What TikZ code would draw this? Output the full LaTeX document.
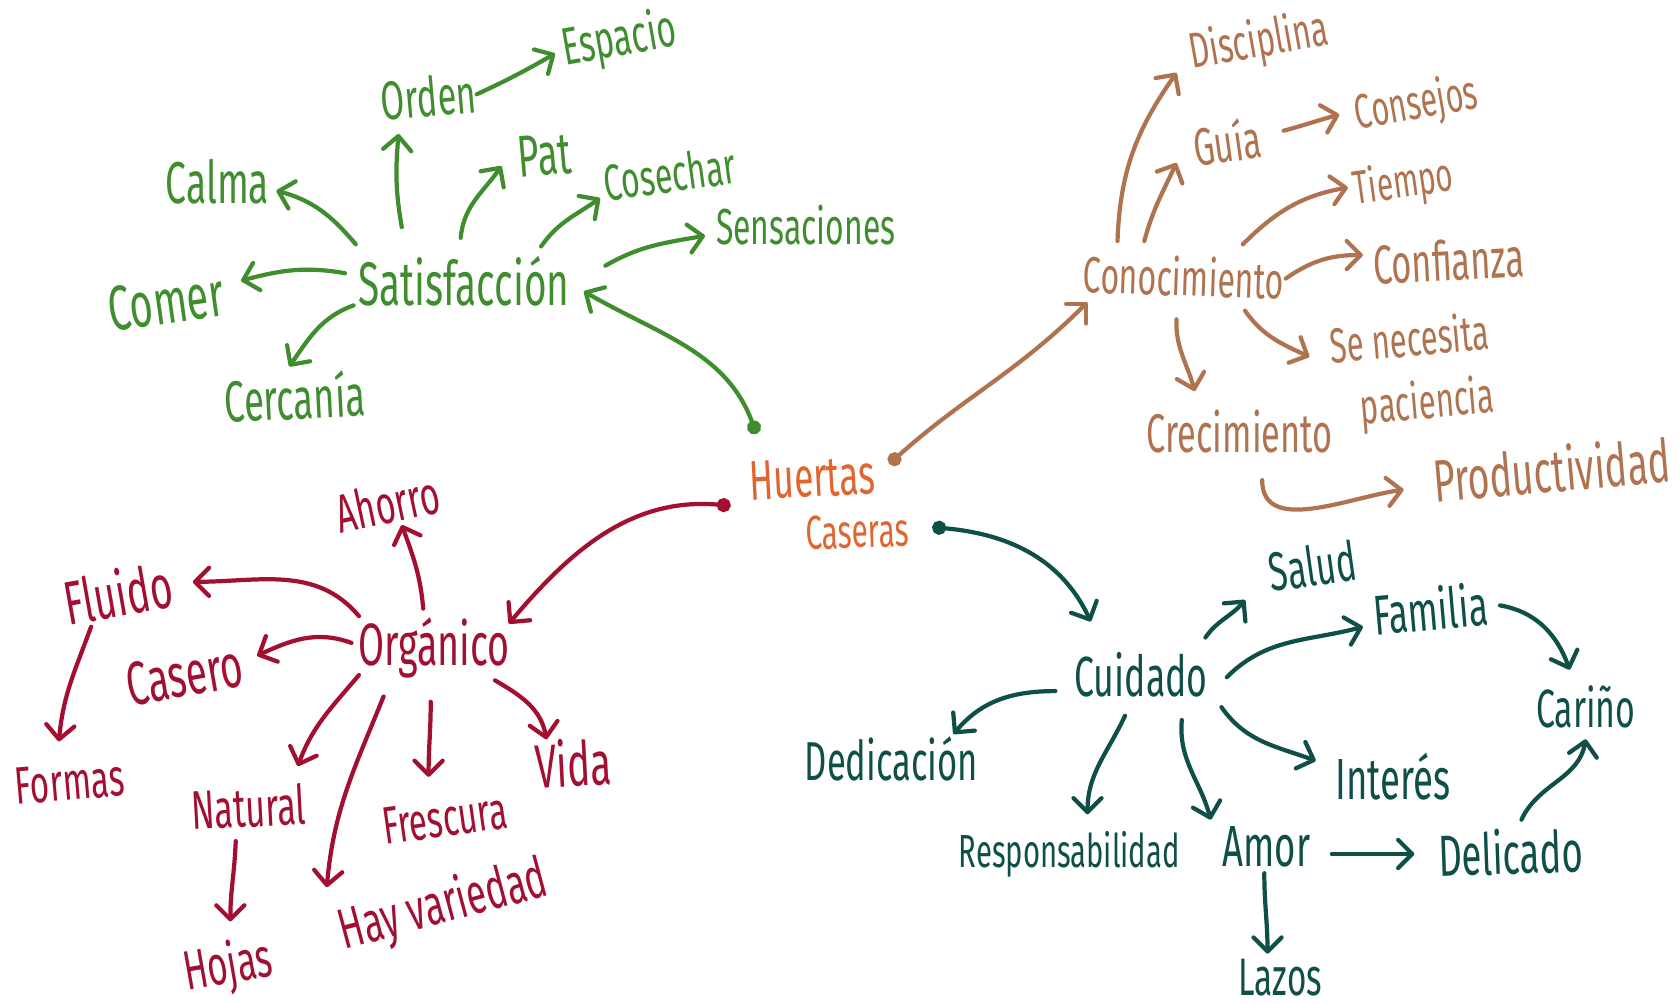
\documentclass[tikz,border=0pt]{standalone}
\usepackage{fontspec}
\setmainfont{Fira Sans}[FakeStretch=0.63]
\usetikzlibrary{arrows.meta,calc}
\definecolor{cgreen}{RGB}{63,141,46}
\definecolor{cbrown}{RGB}{176,115,80}
\definecolor{corange}{RGB}{224,101,48}
\definecolor{cred}{RGB}{163,15,48}
\definecolor{cteal}{RGB}{14,79,72}
\begin{document}
\begin{tikzpicture}[x=0.010714cm,y=0.010714cm,
  fs/.style={font=\fontsize{#1}{#1}\selectfont},
  lab/.style={inner sep=0pt,text=#1},
  arr/.style={draw=#1,line width=1.2pt,line cap=round,-{Straight Barb[length=4pt,width=8pt,round]}},
  darr/.style={draw=#1,line width=1.2pt,line cap=round,{Circle[length=4pt]}-{Straight Barb[length=4pt,width=8pt,round]}}]
\useasboundingbox (0,0) rectangle (1568,-937);
% centre
\node[lab=corange,fs=16,rotate=3] (huertas) at (758,-446) {Huertas};
\node[lab=corange,fs=13.5,rotate=2] (caseras) at (800,-496) {Caseras};
% green
\node[lab=cgreen,fs=17.5] (sat) at (433,-262) {Satisfacción};
\node[lab=cgreen,fs=16.8] (calma) at (203,-170) {Calma};
\node[lab=cgreen,fs=18,rotate=8] (comer) at (155,-282) {Comer};
\node[lab=cgreen,fs=16.5,rotate=3] (cercania) at (275,-370) {Cercanía};
\node[lab=cgreen,fs=15.5,rotate=5] (orden) at (400,-90) {Orden};
\node[lab=cgreen,fs=15,rotate=10] (espacio) at (578,-38) {Espacio};
\node[lab=cgreen,fs=16.8,rotate=5] (pat) at (508,-145) {Pat};
\node[lab=cgreen,fs=14.5,rotate=8] (cosechar) at (625,-162) {Cosechar};
\node[lab=cgreen,fs=14.4] (sens) at (752,-210) {Sensaciones};
% brown
\node[lab=cbrown,fs=14.5,rotate=-2] (conoc) at (1105,-258) {Conocimiento};
\node[lab=cbrown,fs=14.2,rotate=10] (disc) at (1175,-40) {Disciplina};
\node[lab=cbrown,fs=15,rotate=8] (guia) at (1145,-132) {Guía};
\node[lab=cbrown,fs=13.8,rotate=10] (consejos) at (1322,-98) {Consejos};
\node[lab=cbrown,fs=13.4,rotate=8] (tiempo) at (1310,-172) {Tiempo};
\node[lab=cbrown,fs=15.6,rotate=3] (conf) at (1352,-243) {Confianza};
\node[lab=cbrown,rotate=5,align=right,font=\fontsize{14}{18}\selectfont] (senec) at (1318,-349) {Se necesita\\paciencia};
\node[lab=cbrown,fs=15.5] (crecim) at (1157,-403) {Crecimiento};
\node[lab=cbrown,fs=17,rotate=5] (product) at (1448,-438) {Productividad};
% red
\node[lab=cred,fs=17] (org) at (405,-605) {Orgánico};
\node[lab=cred,fs=15.4,rotate=12] (ahorro) at (362,-470) {Ahorro};
\node[lab=cred,fs=17.5,rotate=10] (fluido) at (110,-553) {Fluido};
\node[lab=cred,fs=17.5,rotate=10] (casero) at (172,-630) {Casero};
\node[lab=cred,fs=15,rotate=5] (formas) at (65,-730) {Formas};
\node[lab=cred,fs=15.5,rotate=3] (natural) at (232,-753) {Natural};
\node[lab=cred,fs=15.8,rotate=10] (hojas) at (213,-903) {Hojas};
\node[lab=cred,fs=16.2,rotate=15] (hayvar) at (414,-846) {Hay variedad};
\node[lab=cred,fs=15,rotate=8] (frescura) at (415,-764) {Frescura};
\node[lab=cred,fs=17.5,rotate=3] (vida) at (535,-712) {Vida};
% teal
\node[lab=cteal,fs=16.1] (cuid) at (1065,-630) {Cuidado};
\node[lab=cteal,fs=15.5,rotate=8] (salud) at (1225,-528) {Salud};
\node[lab=cteal,fs=16,rotate=5] (familia) at (1335,-568) {Familia};
\node[lab=cteal,fs=15.3] (carino) at (1480,-660) {Cariño};
\node[lab=cteal,fs=15.6] (dedic) at (832,-708) {Dedicación};
\node[lab=cteal,fs=16.5] (interes) at (1300,-725) {Interés};
\node[lab=cteal,fs=13.2] (respons) at (998,-797) {Responsabilidad};
\node[lab=cteal,fs=16.5] (amor) at (1182,-790) {Amor};
\node[lab=cteal,fs=16.5,rotate=2] (delicado) at (1410,-795) {Delicado};
\node[lab=cteal,fs=15] (lazos) at (1195,-912) {Lazos};
% green connectors
\draw[arr=cgreen] ($(sat)+(-101,34)$) to[out=130,in=-15] ($(calma)+(55,-8)$);
\draw[arr=cgreen] ($(sat)+(-111,7)$) to[out=170,in=15] ($(comer)+(70,20)$);
\draw[arr=cgreen] ($(sat)+(-103,-23)$) to[out=200,in=55] ($(cercania)+(-5,28)$);
\draw[arr=cgreen] ($(sat)+(-58,50)$) to[out=100,in=-95] ($(orden)+(-28,-35)$);
\draw[arr=cgreen] ($(orden)+(45,2)$) to[out=25,in=-150] ($(espacio)+(-60,-12)$);
\draw[arr=cgreen] ($(sat)+(-3,40)$) to[out=85,in=-125] ($(pat)+(-40,-10)$);
\draw[arr=cgreen] ($(sat)+(72,32)$) to[out=55,in=-145] ($(cosechar)+(-65,-23)$);
\draw[arr=cgreen] ($(sat)+(132,14)$) to[out=30,in=-170] ($(sens)+(-94,-10)$);
\draw[darr=cgreen] ($(huertas)+(-52,41)$) to[out=110,in=-30] ($(sat)+(112,-10)$);
% brown connectors
\draw[darr=cbrown] ($(huertas)+(72,13)$) to[out=42,in=-135] ($(conoc)+(-90,-24)$);
\draw[arr=cbrown] ($(conoc)+(-62,33)$) to[out=88,in=-125] ($(disc)+(-77,-28)$);
\draw[arr=cbrown] ($(conoc)+(-37,33)$) to[out=75,in=-115] ($(guia)+(-47,-20)$);
\draw[arr=cbrown] ($(guia)+(53,10)$) to[out=15,in=-165] ($(consejos)+(-72,-9)$);
\draw[arr=cbrown] ($(conoc)+(55,30)$) to[out=45,in=-170] ($(tiempo)+(-52,-3)$);
\draw[arr=cbrown] ($(conoc)+(95,-2)$) to[out=35,in=180] ($(conf)+(-80,5)$);
\draw[arr=cbrown] ($(conoc)+(57,-32)$) to[out=-55,in=155] ($(senec)+(-96,16)$);
\draw[arr=cbrown] ($(conoc)+(-7,-40)$) to[out=-92,in=105] ($(crecim)+(-42,38)$);
\draw[arr=cbrown] ($(crecim)+(21,-45)$) to[out=-90,in=-172] ($(product)+(-138,-19)$);
% red connectors
\draw[darr=cred] ($(huertas)+(-76,-26)$) to[out=175,in=50] ($(org)+(70,23)$);
\draw[arr=cred] ($(org)+(-10,37)$) to[out=95,in=-70] ($(ahorro)+(13,-20)$);
\draw[arr=cred] ($(org)+(-70,30)$) to[out=130,in=0] ($(fluido)+(70,10)$);
\draw[arr=cred] ($(fluido)+(-25,-32)$) to[out=-110,in=85] ($(formas)+(-10,38)$);
\draw[arr=cred] ($(org)+(-77,5)$) to[out=160,in=25] ($(casero)+(68,18)$);
\draw[arr=cred] ($(org)+(-70,-25)$) to[out=-130,in=70] ($(natural)+(46,38)$);
\draw[arr=cred] ($(natural)+(-12,-32)$) to[out=-92,in=90] ($(hojas)+(2,43)$);
\draw[arr=cred] ($(org)+(-47,-45)$) to[out=-112,in=85] ($(hayvar)+(-109,18)$);
\draw[arr=cred] ($(org)+(-3,-50)$) to[out=-90,in=90] ($(frescura)+(-15,39)$);
\draw[arr=cred] ($(org)+(57,-30)$) to[out=-30,in=100] ($(vida)+(-25,22)$);
% teal connectors
\draw[darr=cteal] ($(huertas)+(112,-46)$) to[out=-5,in=115] ($(cuid)+(-47,50)$);
\draw[arr=cteal] ($(cuid)+(60,35)$) to[out=55,in=-130] ($(salud)+(-63,-32)$);
\draw[arr=cteal] ($(cuid)+(80,-2)$) to[out=45,in=-165] ($(familia)+(-63,-17)$);
\draw[arr=cteal] ($(familia)+(65,3)$) to[out=-10,in=110] ($(carino)+(-15,35)$);
\draw[arr=cteal] ($(cuid)+(-80,-15)$) to[out=180,in=50] ($(dedic)+(58,23)$);
\draw[arr=cteal] ($(cuid)+(75,-30)$) to[out=-55,in=160] ($(interes)+(-72,15)$);
\draw[arr=cteal] ($(cuid)+(-15,-38)$) to[out=-115,in=90] ($(respons)+(17,37)$);
\draw[arr=cteal] ($(cuid)+(38,-42)$) to[out=-95,in=105] ($(amor)+(-52,25)$);
\draw[arr=cteal] ($(amor)+(61,-7)$) to[out=0,in=180] ($(delicado)+(-90,-2)$);
\draw[arr=cteal] ($(delicado)+(10,30)$) to[out=65,in=-100] ($(carino)+(0,-30)$);
\draw[arr=cteal] ($(amor)+(-2,-25)$) to[out=-90,in=90] ($(lazos)+(-12,22)$);
\end{tikzpicture}
\end{document}
